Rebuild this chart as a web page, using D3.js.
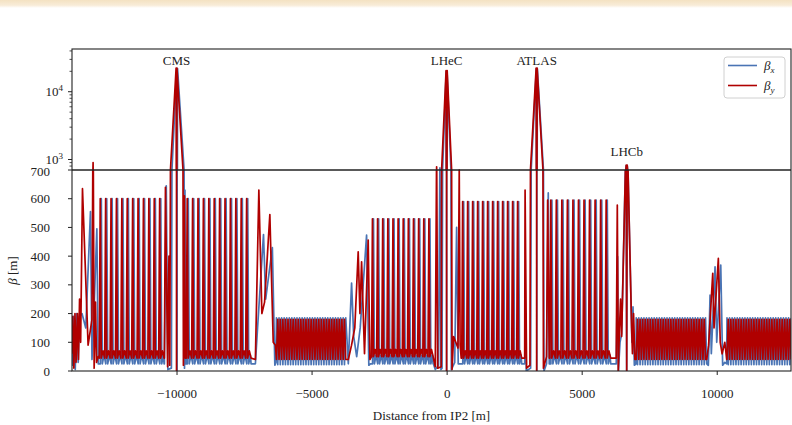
<!DOCTYPE html>
<html>
<head>
<meta charset="utf-8">
<script src="https://cdn.jsdelivr.net/npm/d3@7"></script>
<style>
    body { margin: 0; background: #fff; }
    svg text { font-family: "Liberation Serif", serif; fill: #222; }
</style>
</head>
<body>
<script>
// size of the picture
var width = 792;
var height = 425;

var blueColor = '#4a74b4';
var redColor = '#b00000';

// ring distance shown and the tick labels
var xDomain = [-13870, 12750];
var xTicks = [-10000, -5000, 0, 5000, 10000];
var linTicks = [0, 100, 200, 300, 400, 500, 600, 700];
var logMajor = [1000, 10000];
var logMinor = [800, 900, 2000, 3000, 4000, 5000, 6000, 7000, 8000, 9000, 20000, 30000, 40000];

// interaction points: name, position [m], beta level of the label [m]
var ipNames = ["CMS", "LHeC", "ATLAS", "LHCb"];
var ipPos = [-10000, 0, 3333, 6667];
var ipLabelBeta = [24800, 24800, 24800, 1126];

// arcs: runs of regular cells (start, end, cell length, peak / low / mid beta)
var arcStart = [-12860, -9640, -6300, -2780, 560, 3820, 7020, 10380];
var arcEnd   = [-10460, -7100, -3650, -500, 2860, 6270, 9620, 12760];
var arcCell  = [200, 200, 95, 190, 185, 205, 95, 95];
var arcPeakX = [600, 600, 185, 530, 590, 595, 185, 185];
var arcPeakY = [600, 600, 180, 530, 590, 595, 180, 180];
var arcLowX  = [25, 25, 22, 25, 25, 25, 22, 22];
var arcLowY  = [45, 45, 40, 50, 45, 45, 40, 40];
var arcMidX  = [55, 55, null, 55, 55, 55, null, null];
var arcMidY  = [70, 70, null, 75, 70, 70, null, null];

// insertion regions, [s, beta] read point by point
var irLeftBx = [[-13880,180],[-13850,20],[-13800,190],[-13750,5],[-13700,200],[-13640,30],[-13600,190],[-13500,200],[-13360,150],[-13186,555],[-13130,40],[-13060,200],[-12950,495],[-12900,25]];
var irLeftBy = [[-13880,60],[-13840,190],[-13800,10],[-13760,200],[-13720,30],[-13670,200],[-13630,40],[-13590,250],[-13550,100],[-13482,635],[-13274,90],[-13130,180],[-13089,900],[-13050,10],[-13000,240],[-12960,30],[-12900,50]];

var irCmsBx = [[-10450,25],[-10380,645],[-10320,5],[-10190,10],[-10170,700],[-9992,22000],[-9978,1],[-9962,22000],[-9720,700],[-9705,10],[-9688,630],[-9660,25]];
var irCmsBy = [[-10450,45],[-10410,640],[-10330,15],[-10280,400],[-10250,20],[-10225,700],[-10015,22300],[-10000,1],[-9985,22300],[-9760,700],[-9745,20],[-9710,610],[-9680,45]];

var irM1Bx = [[-7080,25],[-7000,150],[-6780,475],[-6700,250],[-6452,430],[-6360,20],[-6320,30]];
var irM1By = [[-7080,40],[-6952,630],[-6840,200],[-6740,240],[-6545,545],[-6420,100],[-6340,90]];

var irM2Bx = [[-3640,25],[-3519,306],[-3440,120],[-3330,50],[-3200,150],[-2963,473],[-2880,20],[-2820,25]];
var irM2By = [[-3640,40],[-3520,90],[-3400,150],[-3274,415],[-3210,200],[-3148,380],[-3040,60],[-2904,456],[-2840,40]];

var irLhecBx = [[-490,25],[-420,5],[-300,20],[-248,750],[-210,5],[-170,10],[-150,700],[-15,20000],[0,0.5],[15,20000],[160,700],[175,5],[300,30],[370,500],[430,25],[540,25]];
var irLhecBy = [[-490,45],[-420,15],[-370,780],[-330,10],[-200,15],[-185,700],[-20,20500],[0,0.5],[20,20500],[185,700],[200,5],[260,120],[420,80],[467,700],[500,90],[540,45]];

var irAtlasBx = [[2890,25],[2930,200],[2950,0],[3110,10],[3130,700],[3322,22000],[3340,0.5],[3358,22000],[3585,700],[3605,0],[3700,25],[3763,620],[3800,25]];
var irAtlasBy = [[2890,45],[2905,630],[2960,10],[3085,20],[3104,700],[3315,22300],[3333,0.5],[3351,22300],[3567,700],[3585,10],[3700,50],[3740,595],[3800,45]];

var irLhcbBx = [[6280,25],[6330,398],[6360,0],[6420,100],[6480,130],[6645,810],[6667,0.5],[6689,810],[6860,100],[6900,223],[6950,20],[7010,25]];
var irLhcbBy = [[6280,45],[6319,578],[6356,0],[6400,150],[6440,250],[6480,120],[6650,830],[6667,0.5],[6684,830],[6850,150],[6880,60],[6920,200],[6970,40],[7010,40]];

var irM3Bx = [[9630,25],[9690,20],[9753,264],[9800,60],[9938,363],[10000,100],[10149,369],[10220,20],[10300,30],[10370,25]];
var irM3By = [[9630,40],[9700,90],[9853,340],[9900,150],[10060,392],[10130,100],[10200,60],[10300,100],[10370,40]];

// plot frame (pixels)
var pLeft = 72, pRight = 791, pTop = 49, pMid = 170, pBottom = 371;

var x = d3.scaleLinear().domain(xDomain).range([pLeft, pRight]);
var yLog = d3.scaleLog().domain([700, 42700]).range([pMid, pTop]);
var yLin = d3.scaleLinear().domain([0, 700]).range([pBottom, pMid]);

// points of one arc for one plane (x or y)
function arcPoints(i, plane) {
    var pts = [];
    var T = arcCell[i];
    var n = Math.floor((arcEnd[i] - arcStart[i]) / T);
    var peak = plane == "x" ? arcPeakX[i] : arcPeakY[i];
    var low = plane == "x" ? arcLowX[i] : arcLowY[i];
    var midV = plane == "x" ? arcMidX[i] : arcMidY[i];
    for (var k = 0; k < n; k++) {
        var s = arcStart[i] + k * T;
        if (midV == null) {
            // dense arc, the two planes out of phase
            if (plane == "x") { pts.push([s, peak]); pts.push([s + T / 2, low]); }
            else { pts.push([s, low]); pts.push([s + T / 2, peak]); }
        } else {
            var sh = plane == "x" ? 0.2 * T : 0;
            if (k == 0 && sh > 0) pts.push([s, low]);
            pts.push([s + sh, low]);
            pts.push([s + sh + 0.18 * T, peak]);
            pts.push([s + sh + 0.36 * T, low]);
            pts.push([s + sh + 0.68 * T, midV]);
        }
    }
    var sEnd = arcStart[i] + n * T;
    if (midV == null) pts.push([sEnd, plane == "x" ? peak : low]);
    else pts.push([sEnd, low]);
    return pts;
}

function series(plane, inserts) {
    var pts = [];
    inserts.forEach(function (a) { pts = pts.concat(a); });
    for (var i = 0; i < arcStart.length; i++) pts = pts.concat(arcPoints(i, plane));
    pts.sort(function (a, b) { return a[0] - b[0]; });
    return pts;
}

var betaX = series("x", [irLeftBx, irCmsBx, irM1Bx, irM2Bx, irLhecBx, irAtlasBx, irLhcbBx, irM3Bx]);
var betaY = series("y", [irLeftBy, irCmsBy, irM1By, irM2By, irLhecBy, irAtlasBy, irLhcbBy, irM3By]);

var svg = d3.select("body")
    .append("svg")
    .attr("width", width)
    .attr("height", height);

// beige strip at the top of the screenshot
var defs = svg.append("defs");
var grad = defs.append("linearGradient")
    .attr("id", "strip")
    .attr("x1", "0%").attr("y1", "0%")
    .attr("x2", "0%").attr("y2", "100%");
grad.append("stop").attr("offset", "0%").attr("stop-color", "#f4e2c2");
grad.append("stop").attr("offset", "65%").attr("stop-color", "#f8ecd8");
grad.append("stop").attr("offset", "100%").attr("stop-color", "#ffffff");
svg.append("rect").attr("x", 0).attr("y", 0).attr("width", width).attr("height", 8)
    .style("fill", "url(#strip)");

defs.append("clipPath").attr("id", "clipTop")
    .append("rect").attr("x", pLeft).attr("y", pTop).attr("width", pRight - pLeft).attr("height", pMid - pTop);
defs.append("clipPath").attr("id", "clipBot")
    .append("rect").attr("x", pLeft).attr("y", pMid).attr("width", pRight - pLeft).attr("height", pBottom - pMid);

var lineLog = d3.line()
    .x(function (d) { return x(d[0]); })
    .y(function (d) { return yLog(Math.max(d[1], 0.5)); });
var lineLin = d3.line()
    .x(function (d) { return x(d[0]); })
    .y(function (d) { return yLin(d[1]); });

var gTop = svg.append("g").attr("clip-path", "url(#clipTop)");
var gBot = svg.append("g").attr("clip-path", "url(#clipBot)");

[[betaX, blueColor], [betaY, redColor]].forEach(function (p) {
    gTop.append("path").attr("d", lineLog(p[0]))
        .style("fill", "none").style("stroke", p[1]).style("stroke-width", 1.7)
        .style("stroke-linejoin", "round");
    gBot.append("path").attr("d", lineLin(p[0]))
        .style("fill", "none").style("stroke", p[1]).style("stroke-width", 1.7)
        .style("stroke-linejoin", "round");
});

// frame
var frame = svg.append("g").style("stroke", "#222").style("fill", "none");
frame.append("rect").attr("x", pLeft).attr("y", pTop).attr("width", pRight - pLeft).attr("height", pBottom - pTop)
    .style("stroke-width", 1.1);
frame.append("line").attr("x1", pLeft).attr("x2", pRight).attr("y1", pMid).attr("y2", pMid)
    .style("stroke-width", 1.7);

// y axis, linear part
var axLin = svg.append("g");
linTicks.forEach(function (v) {
    axLin.append("line").attr("x1", pLeft - 4).attr("x2", pLeft).attr("y1", yLin(v)).attr("y2", yLin(v))
        .style("stroke", "#222").style("stroke-width", 1);
    axLin.append("text").attr("x", 50).attr("y", yLin(v) + (v == 700 ? 5.5 : 4.5))
        .attr("text-anchor", "end").attr("font-size", 13).text(v);
});

// y axis, log part
logMinor.forEach(function (v) {
    svg.append("line").attr("x1", pLeft - 2.5).attr("x2", pLeft).attr("y1", yLog(v)).attr("y2", yLog(v))
        .style("stroke", "#222").style("stroke-width", 0.8);
});
logMajor.forEach(function (v) {
    svg.append("line").attr("x1", pLeft - 4).attr("x2", pLeft).attr("y1", yLog(v)).attr("y2", yLog(v))
        .style("stroke", "#222").style("stroke-width", 1);
    var t = svg.append("text").attr("x", 63).attr("y", yLog(v) + (v == 1000 ? 4 : 4.5))
        .attr("text-anchor", "end").attr("font-size", 13);
    t.append("tspan").text("10");
    t.append("tspan").attr("dy", -5).attr("font-size", 9).text(Math.round(Math.log10(v)));
});

svg.append("text")
    .attr("transform", "translate(17," + ((pMid + pBottom) / 2) + ") rotate(-90)")
    .attr("text-anchor", "middle").attr("font-size", 13)
    .html('<tspan font-style="italic">β</tspan> [m]');

// x axis
var xAxis = svg.append("g")
    .attr("transform", "translate(0," + pBottom + ")")
    .call(d3.axisBottom(x).tickValues(xTicks).tickSize(4).tickPadding(14).tickFormat(d3.format("d")));
xAxis.select(".domain").remove();
xAxis.selectAll("line").style("stroke", "#222");
xAxis.selectAll("text").attr("font-size", 13).attr("font-family", "Liberation Serif, serif").style("fill", "#222");

svg.append("text").attr("x", (pLeft + pRight) / 2).attr("y", 420)
    .attr("text-anchor", "middle").attr("font-size", 13)
    .text("Distance from IP2 [m]");

// IP labels
ipNames.forEach(function (n, i) {
    svg.append("text").attr("x", x(ipPos[i])).attr("y", yLog(ipLabelBeta[i]))
        .attr("text-anchor", "middle").attr("font-size", 13).text(n);
});

// legend
var lg = svg.append("g").attr("transform", "translate(724,57)");
lg.append("rect").attr("width", 61).attr("height", 41).attr("rx", 3)
    .style("fill", "#fff").style("fill-opacity", 0.85).style("stroke", "#d0d0d0");
[["x", blueColor], ["y", redColor]].forEach(function (e, i) {
    var yy = 8.5 + i * 20;
    lg.append("line").attr("x1", 4).attr("x2", 33).attr("y1", yy).attr("y2", yy)
        .style("stroke", e[1]).style("stroke-width", 1.6);
    var t = lg.append("text").attr("x", 40).attr("y", yy + 4).attr("font-size", 13).attr("font-style", "italic");
    t.append("tspan").text("β");
    t.append("tspan").attr("dy", 3).attr("font-size", 9).text(e[0]);
});
</script>
</body>
</html>
